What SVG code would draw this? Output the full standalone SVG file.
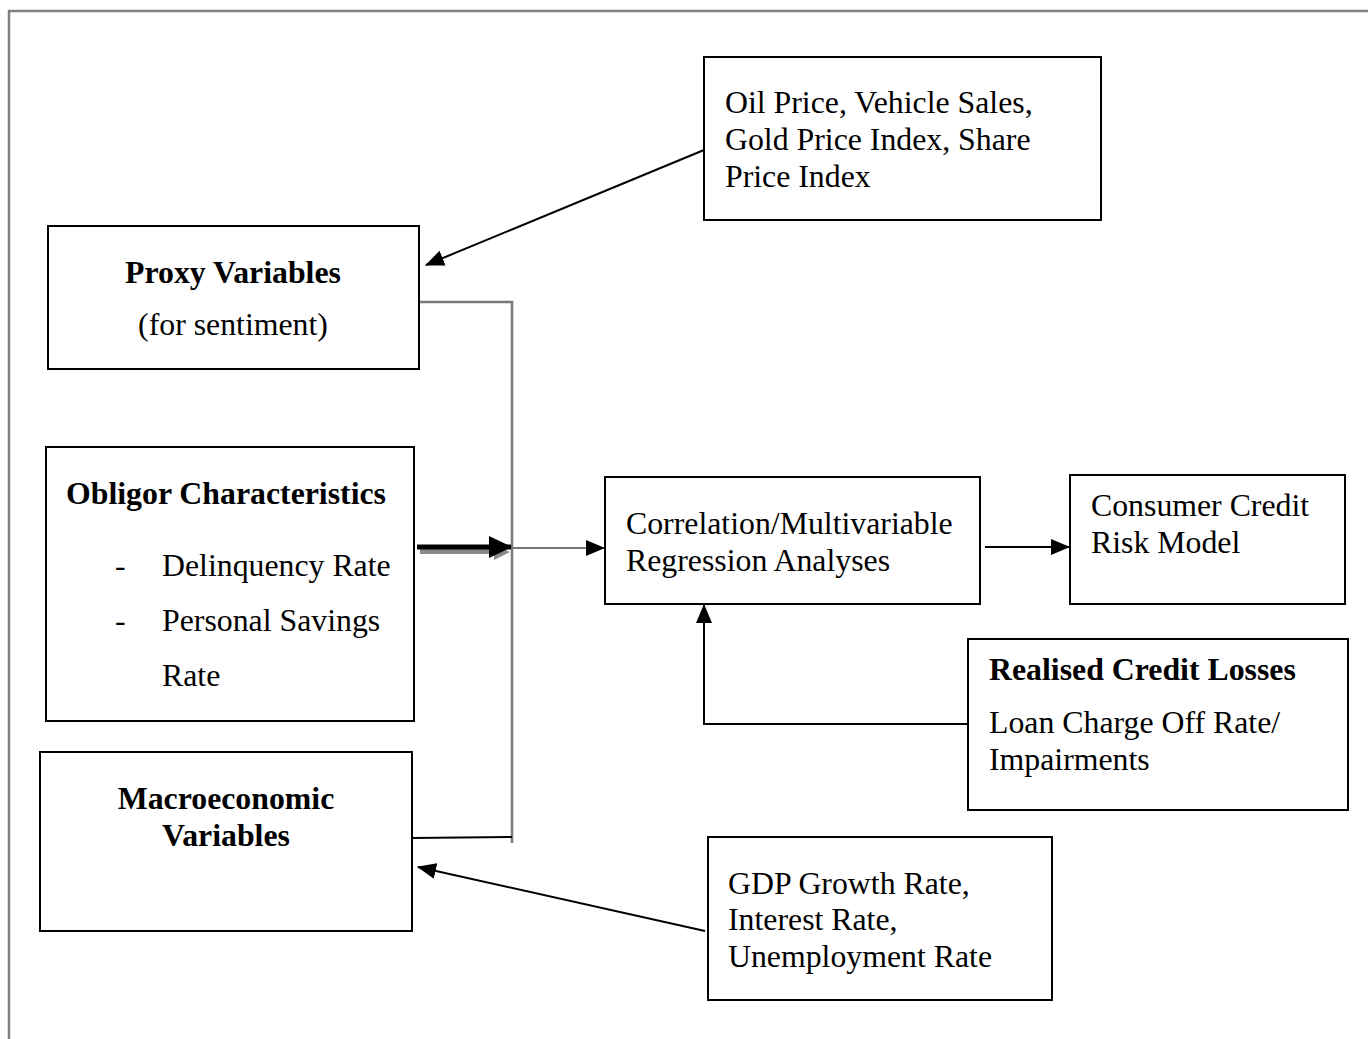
<svg xmlns="http://www.w3.org/2000/svg" width="1368" height="1039" viewBox="0 0 1368 1039">
<style>
.box{fill:#fff;stroke:#000;stroke-width:2}
.t{font-family:"Liberation Serif","Times New Roman",serif;font-size:31.8px;fill:#000}
.b{font-weight:bold}
.c{stroke:#000;stroke-width:2;fill:none}
</style>
<defs>
<marker id="ah" markerUnits="userSpaceOnUse" markerWidth="20" markerHeight="16" refX="18" refY="8" orient="auto">
<path d="M0,0 L19,8 L0,16 Z" fill="#000"/>
</marker>
<marker id="ahb" markerUnits="userSpaceOnUse" markerWidth="24" markerHeight="22" refX="22" refY="11" orient="auto">
<path d="M0,0 L23,11 L0,22 Z" fill="#000"/>
</marker>
</defs>
<rect width="1368" height="1039" fill="#fff"/>
<path d="M9,1039 V11 H1368" fill="none" stroke="#808080" stroke-width="2.5"/>

<g id="connectors">
<line class="c" x1="704" y1="150" x2="426" y2="265" marker-end="url(#ah)"/>
<line class="c" x1="705" y1="931" x2="418" y2="867" marker-end="url(#ah)"/>
<path d="M419,302 H512 V843" fill="none" stroke="#7a7a7a" stroke-width="2.5"/>
<line x1="412" y1="838" x2="512" y2="837" stroke="#000" stroke-width="2"/>
<path d="M420,549 H494 V545 L510,552 L494,560 V554 H420 Z" fill="#8a8a8a"/>
<line x1="417" y1="547" x2="511" y2="547" stroke="#000" stroke-width="5" marker-end="url(#ahb)"/>
<line x1="512" y1="548" x2="604" y2="548" stroke="#777" stroke-width="2" marker-end="url(#ah)"/>
<line class="c" x1="985" y1="547" x2="1069" y2="547" marker-end="url(#ah)"/>
<path class="c" d="M968,724 H704 V605" marker-end="url(#ah)"/>
</g>

<g id="oil">
<rect class="box" x="704" y="57" width="397" height="163"/>
<text class="t" x="725" y="113">Oil Price, Vehicle Sales,</text>
<text class="t" x="725" y="150">Gold Price Index, Share</text>
<text class="t" x="725" y="187">Price Index</text>
</g>

<g id="proxy">
<rect class="box" x="48" y="226" width="371" height="143"/>
<text class="t b" x="233" y="283" text-anchor="middle">Proxy Variables</text>
<text class="t" x="233" y="335" text-anchor="middle">(for sentiment)</text>
</g>

<g id="obligor">
<rect class="box" x="46" y="447" width="368" height="274"/>
<text class="t b" x="66" y="504">Obligor Characteristics</text>
<text class="t" x="115" y="576">-</text>
<text class="t" x="162" y="576">Delinquency Rate</text>
<text class="t" x="115" y="631">-</text>
<text class="t" x="162" y="631">Personal Savings</text>
<text class="t" x="162" y="686">Rate</text>
</g>

<g id="macro">
<rect class="box" x="40" y="752" width="372" height="179"/>
<text class="t b" x="226" y="809" text-anchor="middle">Macroeconomic</text>
<text class="t b" x="226" y="846" text-anchor="middle">Variables</text>
</g>

<g id="correlation">
<rect class="box" x="605" y="477" width="375" height="127"/>
<text class="t" x="626" y="534">Correlation/Multivariable</text>
<text class="t" x="626" y="571">Regression Analyses</text>
</g>

<g id="consumer">
<rect class="box" x="1070" y="475" width="275" height="129"/>
<text class="t" x="1091" y="516">Consumer Credit</text>
<text class="t" x="1091" y="553">Risk Model</text>
</g>

<g id="realised">
<rect class="box" x="968" y="639" width="380" height="171"/>
<text class="t b" x="989" y="680">Realised Credit Losses</text>
<text class="t" x="989" y="733">Loan Charge Off Rate/</text>
<text class="t" x="989" y="770">Impairments</text>
</g>

<g id="gdp">
<rect class="box" x="708" y="837" width="344" height="163"/>
<text class="t" x="728" y="894">GDP Growth Rate,</text>
<text class="t" x="728" y="930">Interest Rate,</text>
<text class="t" x="728" y="967">Unemployment Rate</text>
</g>
</svg>
